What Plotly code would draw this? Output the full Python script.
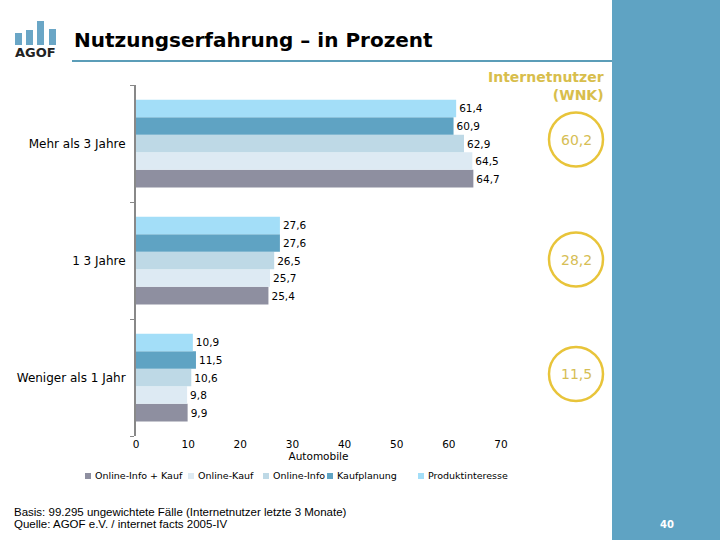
import plotly.graph_objects as go

categories = ["Weniger als 1 Jahr", "1 3 Jahre", "Mehr als 3 Jahre"]
series_names = ["Online-Info + Kauf", "Online-Kauf", "Online-Info", "Kaufplanung", "Produktinteresse"]
online_info_kauf = [9.9, 25.4, 64.7]
online_kauf = [9.8, 25.7, 64.5]
online_info = [10.6, 26.5, 62.9]
kaufplanung = [11.5, 27.6, 60.9]
produktinteresse = [10.9, 27.6, 61.4]
wnk_labels = ["60,2", "28,2", "11,5"]

series_values = [online_info_kauf, online_kauf, online_info, kaufplanung, produktinteresse]
colors = ["#8E8FA0", "#DDEAF3", "#BED9E6", "#5FA3C3", "#A3DEF8"]

FONT = "DejaVu Sans"
L, R, T, B = 136, 501, 85, 436
W, H = 720, 540

def px(x):
    return (x - L) / (R - L)

def py(y):
    return (B - y) / (B - T)

fig = go.Figure()
for name, vals, col in zip(series_names, series_values, colors):
    fig.add_trace(go.Bar(
        y=categories, x=vals, name=name, orientation="h",
        marker=dict(color=col, line=dict(width=0)),
        texttemplate="%{x:.1f}", textposition="outside",
        textfont=dict(family=FONT, size=10.5, color="#000000"),
        cliponaxis=False, showlegend=False,
    ))

shapes = []
# right blue panel
shapes.append(dict(type="rect", xref="paper", yref="paper", x0=px(612), x1=px(720), y0=py(0), y1=py(540),
                   fillcolor="#5FA3C3", line=dict(width=0), layer="below"))
# title underline
shapes.append(dict(type="rect", xref="paper", yref="paper", x0=px(72), x1=px(612), y0=py(62), y1=py(60),
                   fillcolor="#5B9DB8", line=dict(width=0)))
# logo bars
for (x0, x1, y0) in [(15, 22, 33), (26, 33, 30), (37, 44, 21), (49, 56, 29)]:
    shapes.append(dict(type="rect", xref="paper", yref="paper", x0=px(x0), x1=px(x1), y0=py(45), y1=py(y0),
                       fillcolor="#6AA6C6", line=dict(width=0)))
# circles
for cy in [139.5, 259.5, 374]:
    shapes.append(dict(type="circle", xref="paper", yref="paper", x0=px(549), x1=px(603), y0=py(cy + 27), y1=py(cy - 27),
                       line=dict(color="#E8C43A", width=2.5)))

annotations = []
# manual legend
legend_marker_x = [85, 188, 263, 327, 418]
for name, col, mx in zip(series_names, colors, legend_marker_x):
    shapes.append(dict(type="rect", xref="paper", yref="paper", x0=px(mx), x1=px(mx + 6), y0=py(479), y1=py(473),
                       fillcolor=col, line=dict(width=0)))
    annotations.append(dict(text=name, xref="paper", yref="paper", x=px(mx + 8), y=py(476), xanchor="left",
                            yanchor="middle", showarrow=False, font=dict(family=FONT, size=9.5, color="#000000")))

annotations.append(dict(text="<b>Nutzungserfahrung – in Prozent</b>", xref="paper", yref="paper",
                        x=px(72), y=py(40), xanchor="left", yanchor="middle", showarrow=False,
                        font=dict(family=FONT, size=20, color="#000000")))
annotations.append(dict(text="<b>AGOF</b>", xref="paper", yref="paper", x=px(13), y=py(53), xanchor="left",
                        yanchor="middle", showarrow=False, font=dict(family=FONT, size=13, color="#222222")))
annotations.append(dict(text="<b>Internetnutzer<br>(WNK)</b>", xref="paper", yref="paper", x=px(606), y=py(86),
                        xanchor="right", yanchor="middle", align="right", showarrow=False,
                        font=dict(family=FONT, size=14, color="#D8BE4C")))
for cy, lab in zip([139.5, 259.5, 374], wnk_labels):
    annotations.append(dict(text=lab, xref="paper", yref="paper", x=px(576), y=py(cy), xanchor="center",
                            yanchor="middle", showarrow=False, font=dict(family=FONT, size=14, color="#D6BE55")))
annotations.append(dict(text="Basis: 99.295 ungewichtete Fälle (Internetnutzer letzte 3 Monate)",
                        xref="paper", yref="paper", x=px(12), y=py(512), xanchor="left", yanchor="middle",
                        showarrow=False, font=dict(family="Liberation Sans", size=11.5, color="#000000")))
annotations.append(dict(text="Quelle: AGOF e.V. / internet facts 2005-IV",
                        xref="paper", yref="paper", x=px(12), y=py(524), xanchor="left", yanchor="middle",
                        showarrow=False, font=dict(family="Liberation Sans", size=11.5, color="#000000")))
annotations.append(dict(text="<b>40</b>", xref="paper", yref="paper", x=px(667), y=py(524), xanchor="center",
                        yanchor="middle", showarrow=False, font=dict(family=FONT, size=10, color="#FFFFFF")))

fig.update_layout(
    width=W, height=H,
    margin=dict(l=L, r=W - R, t=T, b=H - B, pad=0),
    paper_bgcolor="#FFFFFF", plot_bgcolor="#FFFFFF",
    barmode="group", bargap=0.25, bargroupgap=0,
    separators=",.",
    showlegend=False,
    xaxis=dict(range=[0, 70], dtick=10, showgrid=False, zeroline=False, showline=False,
               tickfont=dict(family=FONT, size=10.5, color="#000000"), ticks="",
               title=dict(text="Automobile", font=dict(family=FONT, size=10.5, color="#000000"), standoff=4)),
    yaxis=dict(categoryorder="array", categoryarray=categories, showgrid=False, zeroline=False,
               showline=True, linecolor="#888888", linewidth=2, ticks="outside", tickson="boundaries",
               ticklen=4, tickcolor="#888888", tickfont=dict(family=FONT, size=12, color="#000000"),
               ticklabelstandoff=6),
    shapes=shapes, annotations=annotations,
)

fig.write_html("out.html", config={"displayModeBar": False},
               post_script="document.body.style.margin='0';document.body.style.padding='0';")
